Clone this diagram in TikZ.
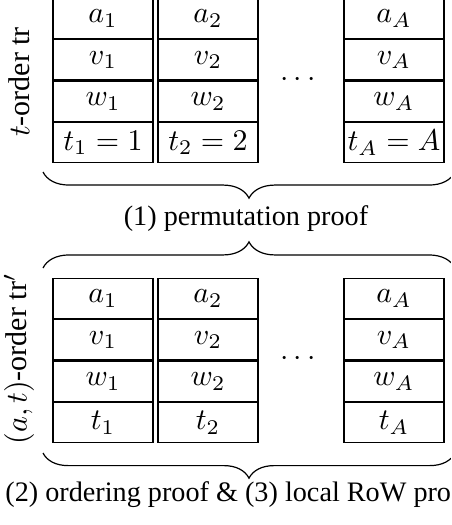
\documentclass[tikz,border=0pt]{standalone}
\usepackage{fontspec}
\newfontfamily\capfont{Liberation Serif}
\usetikzlibrary{decorations.pathreplacing,positioning}

\begin{document}
\begin{tikzpicture}[x=0.3333pt,y=-0.3333pt,
  cell/.style={draw,minimum width=33.3pt,minimum height=13.4pt,inner sep=1pt},
  brc/.style={decorate,decoration={brace,amplitude=#1}},
  lbl/.style={rotate=90,font=\capfont}]
\useasboundingbox (0,0) rectangle (451,525);
\clip (0,0) rectangle (451,525);
% t-order
\foreach \c/\x/\t in {1/103/{t_1=1},2/208/{t_2=2},A/394/{t_A=A}}{
  \node[cell] (ta\c) at (\x,18.5) {$a_\c$};
  \node[cell,below=0pt of ta\c] (tv\c) {$v_\c$};
  \node[cell,below=0pt of tv\c] (tw\c) {$w_\c$};
  \node[cell,below=0pt of tw\c] (tt\c) {$\t$};
}
\node (tdots) at (298,80) {$\cdots$};
\node[lbl] (tlab) at (19,82) {$t$-order tr};
\draw[brc=8.7pt] (455,172) -- (43,172);
\node[font=\capfont\fontsize{9.4}{11}\selectfont] (cap1) at (246,219) {(1) permutation proof};
\draw[brc=8.7pt] (43,268) -- (455,268);
% (a,t)-order
\foreach \c/\x in {1/103,2/208,A/394}{
  \node[cell] (ba\c) at (\x,298.5) {$a_\c$};
  \node[cell,below=0pt of ba\c] (bv\c) {$v_\c$};
  \node[cell,below=0pt of bv\c] (bw\c) {$w_\c$};
  \node[cell,below=0pt of bw\c] (bt\c) {$t_\c$};
}
\node (bdots) at (298,359) {$\cdots$};
\node[lbl] (blab) at (19,359) {$(a,t)$-order tr$'$};
\draw[brc=8.4pt] (455,453) -- (43,453);
\node[font=\capfont\fontsize{9.4}{11}\selectfont] (cap2) at (240,495) {(2) ordering proof \& (3) local RoW proof};
\end{tikzpicture}
\end{document}
